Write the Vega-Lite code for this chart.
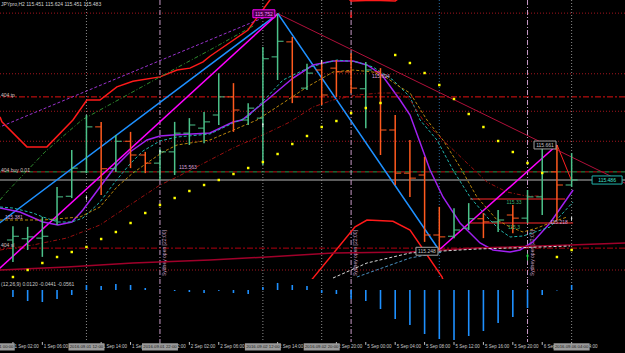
{
"$schema": "https://vega.github.io/schema/vega-lite/v6.json",
"background": "#000000",
"padding": 0,
"spacing": 0,
"bounds": "flush",
"config": {"view": {"stroke": null, "fill": "#000000"}, "text": {"font": "Liberation Sans"}, "concat": {"spacing": 0}},
"datasets": {
"bars": [
{"i":0,"o":115.392,"h":115.414,"l":115.357,"c":115.398},
{"i":1,"o":115.394,"h":115.413,"l":115.376,"c":115.397},
{"i":2,"o":115.395,"h":115.429,"l":115.365,"c":115.398},
{"i":3,"o":115.424,"h":115.477,"l":115.416,"c":115.461},
{"i":4,"o":115.462,"h":115.536,"l":115.459,"c":115.507},
{"i":5,"o":115.501,"h":115.592,"l":115.499,"c":115.573},
{"i":6,"o":115.573,"h":115.581,"l":115.464,"c":115.506},
{"i":7,"o":115.506,"h":115.560,"l":115.501,"c":115.550},
{"i":8,"o":115.550,"h":115.565,"l":115.507,"c":115.528},
{"i":9,"o":115.528,"h":115.533,"l":115.499,"c":115.515},
{"i":10,"o":115.515,"h":115.539,"l":115.488,"c":115.533},
{"i":11,"o":115.533,"h":115.581,"l":115.496,"c":115.563},
{"i":12,"o":115.563,"h":115.587,"l":115.544,"c":115.576},
{"i":13,"o":115.571,"h":115.597,"l":115.547,"c":115.581},
{"i":14,"o":115.592,"h":115.659,"l":115.576,"c":115.621},
{"i":15,"o":115.621,"h":115.643,"l":115.565,"c":115.600},
{"i":16,"o":115.584,"h":115.611,"l":115.576,"c":115.603},
{"i":17,"o":115.587,"h":115.701,"l":115.512,"c":115.682},
{"i":18,"o":115.685,"h":115.754,"l":115.648,"c":115.710},
{"i":19,"o":115.709,"h":115.717,"l":115.611,"c":115.621},
{"i":20,"o":115.635,"h":115.674,"l":115.632,"c":115.659},
{"i":21,"o":115.664,"h":115.677,"l":115.608,"c":115.624},
{"i":22,"o":115.667,"h":115.680,"l":115.621,"c":115.661},
{"i":23,"o":115.661,"h":115.691,"l":115.627,"c":115.635},
{"i":24,"o":115.634,"h":115.677,"l":115.571,"c":115.664},
{"i":25,"o":115.661,"h":115.667,"l":115.528,"c":115.568},
{"i":26,"o":115.568,"h":115.592,"l":115.480,"c":115.499},
{"i":27,"o":115.499,"h":115.552,"l":115.461,"c":115.491},
{"i":28,"o":115.496,"h":115.525,"l":115.389,"c":115.400},
{"i":29,"o":115.400,"h":115.445,"l":115.376,"c":115.397},
{"i":30,"o":115.398,"h":115.443,"l":115.395,"c":115.408},
{"i":31,"o":115.411,"h":115.451,"l":115.408,"c":115.426},
{"i":32,"o":115.426,"h":115.435,"l":115.395,"c":115.421},
{"i":33,"o":115.421,"h":115.440,"l":115.405,"c":115.424},
{"i":34,"o":115.432,"h":115.448,"l":115.403,"c":115.427},
{"i":35,"o":115.427,"h":115.472,"l":115.419,"c":115.461},
{"i":36,"o":115.461,"h":115.541,"l":115.432,"c":115.501},
{"i":37,"o":115.501,"h":115.544,"l":115.424,"c":115.480},
{"i":38,"o":115.480,"h":115.531,"l":115.477,"c":115.488}
],
"lines": [
{"s":"zzblue","i":-2,"p":115.400},{"s":"zzblue","i":18.03,"p":115.754},{"s":"zzblue","i":28.98,"p":115.376},
{"s":"zzmag1","i":-2,"p":115.323},{"s":"zzmag1","i":18.03,"p":115.754},
{"s":"zzmag2","i":28.98,"p":115.376},{"s":"zzmag2","i":37.01,"p":115.544},
{"s":"zzred","i":37.01,"p":115.544},{"s":"zzred","i":38.03,"p":115.485},
{"s":"trend","i":18.03,"p":115.754},{"s":"trend","i":41.63,"p":115.483},
{"s":"chan","i":-2,"p":115.562},{"s":"chan","i":17.48,"p":115.752},
{"s":"gdash","i":-0.88,"p":115.456},{"s":"gdash","i":-0.41,"p":115.469},{"s":"gdash","i":2.18,"p":115.533},{"s":"gdash","i":4.69,"p":115.584},{"s":"gdash","i":10,"p":115.653},{"s":"gdash","i":13.4,"p":115.696},{"s":"gdash","i":16.46,"p":115.736},
{"s":"ub","i":-0.88,"p":115.589},{"s":"ub","i":-0.75,"p":115.581},{"s":"ub","i":0.95,"p":115.541},{"s":"ub","i":2.31,"p":115.541},{"s":"ub","i":4.08,"p":115.584},{"s":"ub","i":5.03,"p":115.616},{"s":"ub","i":5.92,"p":115.616},{"s":"ub","i":7.07,"p":115.637},{"s":"ub","i":8.16,"p":115.646},{"s":"ub","i":10,"p":115.653},{"s":"ub","i":11.16,"p":115.664},{"s":"ub","i":12.04,"p":115.667},{"s":"ub","i":12.93,"p":115.677},{"s":"ub","i":13.4,"p":115.686},{"s":"ub","i":15.99,"p":115.728},{"s":"ub","i":17.48,"p":115.776},{"s":"ub","i":18.2,"p":115.8},
{"s":"ub2","i":22.4,"p":115.786},{"s":"ub2","i":23.0,"p":115.7745},{"s":"ub2","i":24.5,"p":115.7755},{"s":"ub2","i":26.0,"p":115.7745},{"s":"ub2","i":26.7,"p":115.786},
{"s":"lb","i":20.2,"p":115.325},{"s":"lb","i":20.41,"p":115.331},{"s":"lb","i":23.27,"p":115.413},{"s":"lb","i":24.08,"p":115.424},{"s":"lb","i":25.85,"p":115.422},{"s":"lb","i":27.01,"p":115.408},{"s":"lb","i":29.18,"p":115.333},{"s":"lb","i":29.3,"p":115.325},
{"s":"ma1","i":-0.88,"p":115.4432},{"s":"ma1","i":0.48,"p":115.4368},{"s":"ma1","i":2.04,"p":115.4208},{"s":"ma1","i":3.06,"p":115.416},{"s":"ma1","i":4.01,"p":115.4208},{"s":"ma1","i":4.76,"p":115.44},{"s":"ma1","i":5.92,"p":115.4768},{"s":"ma1","i":6.94,"p":115.5088},{"s":"ma1","i":7.96,"p":115.5328},{"s":"ma1","i":9.12,"p":115.552},{"s":"ma1","i":10,"p":115.5584},{"s":"ma1","i":10.88,"p":115.56},{"s":"ma1","i":13.4,"p":115.5632},{"s":"ma1","i":14.97,"p":115.5808},{"s":"ma1","i":15.58,"p":115.584},{"s":"ma1","i":17.28,"p":115.616},{"s":"ma1","i":19.05,"p":115.6512},{"s":"ma1","i":20.41,"p":115.672},{"s":"ma1","i":21.77,"p":115.6784},{"s":"ma1","i":23.13,"p":115.6784},{"s":"ma1","i":24.08,"p":115.672},{"s":"ma1","i":25.1,"p":115.656},{"s":"ma1","i":26.33,"p":115.616},{"s":"ma1","i":27.01,"p":115.592},{"s":"ma1","i":28.37,"p":115.504},{"s":"ma1","i":29.25,"p":115.4608},{"s":"ma1","i":30.41,"p":115.4192},{"s":"ma1","i":31.77,"p":115.3872},{"s":"ma1","i":32.65,"p":115.376},{"s":"ma1","i":33.81,"p":115.3728},{"s":"ma1","i":34.49,"p":115.376},{"s":"ma1","i":35.37,"p":115.3888},{"s":"ma1","i":36.53,"p":115.4192},{"s":"ma1","i":38.1,"p":115.472},
{"s":"ma2","i":-0.88,"p":115.4448},{"s":"ma2","i":0,"p":115.4432},{"s":"ma2","i":1.36,"p":115.4352},{"s":"ma2","i":2.04,"p":115.4288},{"s":"ma2","i":3.06,"p":115.4208},{"s":"ma2","i":4.01,"p":115.4208},{"s":"ma2","i":4.76,"p":115.4272},{"s":"ma2","i":5.92,"p":115.4528},{"s":"ma2","i":6.94,"p":115.4848},{"s":"ma2","i":7.96,"p":115.5136},{"s":"ma2","i":8.84,"p":115.5344},{"s":"ma2","i":10,"p":115.5504},{"s":"ma2","i":11.16,"p":115.5568},{"s":"ma2","i":13.4,"p":115.5616},{"s":"ma2","i":14.97,"p":115.5792},{"s":"ma2","i":15.99,"p":115.5888},{"s":"ma2","i":18.37,"p":115.648},{"s":"ma2","i":20.2,"p":115.6688},{"s":"ma2","i":22.04,"p":115.68},{"s":"ma2","i":23.4,"p":115.6768},{"s":"ma2","i":24.49,"p":115.6688},{"s":"ma2","i":25.85,"p":115.648},{"s":"ma2","i":27.01,"p":115.6208},{"s":"ma2","i":27.69,"p":115.584},{"s":"ma2","i":28.84,"p":115.552},{"s":"ma2","i":29.93,"p":115.504},{"s":"ma2","i":31.09,"p":115.4608},{"s":"ma2","i":32.24,"p":115.4288},{"s":"ma2","i":33.13,"p":115.408},{"s":"ma2","i":33.81,"p":115.3968},{"s":"ma2","i":34.69,"p":115.3984},{"s":"ma2","i":36.53,"p":115.4128},{"s":"ma2","i":38.1,"p":115.4528},
{"s":"ma3","i":-0.88,"p":115.424},{"s":"ma3","i":2.04,"p":115.424},{"s":"ma3","i":4.56,"p":115.4288},{"s":"ma3","i":5.92,"p":115.4448},{"s":"ma3","i":7.07,"p":115.4768},{"s":"ma3","i":8.16,"p":115.4992},{"s":"ma3","i":9.12,"p":115.5152},{"s":"ma3","i":10.2,"p":115.5328},{"s":"ma3","i":11.16,"p":115.544},{"s":"ma3","i":13.4,"p":115.552},{"s":"ma3","i":16.6,"p":115.584},{"s":"ma3","i":18.37,"p":115.6112},{"s":"ma3","i":20,"p":115.6368},{"s":"ma3","i":21.77,"p":115.6608},{"s":"ma3","i":23.13,"p":115.664},{"s":"ma3","i":24.49,"p":115.6608},{"s":"ma3","i":25.44,"p":115.6512},{"s":"ma3","i":26.33,"p":115.6368},{"s":"ma3","i":27.01,"p":115.6272},{"s":"ma3","i":28.16,"p":115.584},{"s":"ma3","i":29.25,"p":115.552},{"s":"ma3","i":30.41,"p":115.5088},{"s":"ma3","i":31.56,"p":115.4608},{"s":"ma3","i":32.93,"p":115.424},{"s":"ma3","i":33.81,"p":115.4128},{"s":"ma3","i":34.69,"p":115.4048},{"s":"ma3","i":35.65,"p":115.4112},{"s":"ma3","i":36.53,"p":115.4192},{"s":"ma3","i":37.69,"p":115.4288},
{"s":"ma4","i":-0.88,"p":115.376},{"s":"ma4","i":1.36,"p":115.384},{"s":"ma4","i":3.67,"p":115.3952},{"s":"ma4","i":5.92,"p":115.416},{"s":"ma4","i":8.16,"p":115.4512},{"s":"ma4","i":10,"p":115.48},{"s":"ma4","i":11.16,"p":115.4928},{"s":"ma4","i":13.4,"p":115.52},{"s":"ma4","i":14.97,"p":115.5392},{"s":"ma4","i":17.28,"p":115.5632},{"s":"ma4","i":18.84,"p":115.5808},{"s":"ma4","i":20.41,"p":115.6048},{"s":"ma4","i":21.77,"p":115.616},{"s":"ma4","i":23.4,"p":115.624},{"s":"ma4","i":24.97,"p":115.6272},{"s":"ma4","i":26.33,"p":115.6272},{"s":"ma4","i":27.01,"p":115.616},{"s":"ma4","i":27.89,"p":115.584},{"s":"ma4","i":29.25,"p":115.552},{"s":"ma4","i":30.88,"p":115.5152},{"s":"ma4","i":32.24,"p":115.4848},{"s":"ma4","i":33.6,"p":115.4688},{"s":"ma4","i":34.9,"p":115.4624},{"s":"ma4","i":36.05,"p":115.4624},
{"s":"ma5","i":-0.88,"p":115.344},{"s":"ma5","i":3.67,"p":115.3488},{"s":"ma5","i":8.16,"p":115.3552},{"s":"ma5","i":13.4,"p":115.36},{"s":"ma5","i":17.28,"p":115.3648},{"s":"ma5","i":21.77,"p":115.3712},{"s":"ma5","i":27.01,"p":115.3728},{"s":"ma5","i":31.56,"p":115.3792},{"s":"ma5","i":37.89,"p":115.384},{"s":"ma5","i":41.63,"p":115.3872},
{"s":"ma6","i":21.77,"p":115.3312},{"s":"ma6","i":24.08,"p":115.3552},{"s":"ma6","i":27.01,"p":115.3712},{"s":"ma6","i":29.25,"p":115.3744},{"s":"ma6","i":31.56,"p":115.3776},{"s":"ma6","i":33.81,"p":115.3792},{"s":"ma6","i":37.89,"p":115.3824},
{"s":"ma7","i":23.4,"p":115.3328},{"s":"ma7","i":27.01,"p":115.3632},{"s":"ma7","i":29.25,"p":115.3728},
{"s":"bx1","i":31.09,"p":115.4576},{"s":"bx1","i":37.55,"p":115.4576},
{"s":"bx2","i":31.09,"p":115.4192},{"s":"bx2","i":38.1,"p":115.4192}
],
"hlines": [
{"k":"dot","p":115.755},{"k":"dot","p":115.658},{"k":"tp","p":115.621},{"k":"dot","p":115.598},{"k":"dot","p":115.550},{"k":"buy","p":115.501},{"k":"bid","p":115.488},{"k":"sl","p":115.379},{"k":"dot","p":115.344}
],
"vlines": [
{"k":"grey","i":5},{"k":"lilac","i":10},{"k":"grey","i":17},{"k":"grey","i":21},{"k":"lilac","i":23},{"k":"blue","i":29},{"k":"lilac","i":35},{"k":"grey","i":38}
],
"labels": [
{"k":"mag","t":"115.752","i":17.07,"p":115.754},
{"k":"grey","t":"115.661","i":36.19,"p":115.544},
{"k":"grey","t":"115.248","i":28.16,"p":115.374},
{"k":"cur","t":"115.486","i":40.41,"p":115.488},
{"k":"plum","t":"115.694","i":25.03,"p":115.654},
{"k":"plum","t":"115.563","i":11.9,"p":115.509},
{"k":"plum","t":"115.381","i":0.07,"p":115.429},
{"k":"plum","t":"115.218","i":37.14,"p":115.421},
{"k":"green","t":"115.33","i":34.08,"p":115.453},
{"k":"green","t":"115.3","i":34.08,"p":115.413},
{"k":"lt","t":"404 tp","i":-0.88,"p":115.624},
{"k":"lt","t":"404 buy 0.01","i":-0.88,"p":115.504},
{"k":"lt","t":"404 sl","i":-0.88,"p":115.384},
{"k":"title","t":"JPYpro,H2  115.451 115.624 115.451 115.483","i":-0.88,"p":115.7696}
],
"marks": [
{"k":"w","i":5,"p":115.459},{"k":"w","i":10,"p":115.533},{"k":"w","i":17,"p":115.576},{"k":"w","i":21,"p":115.677},{"k":"w","i":38,"p":115.426},{"k":"r","i":23,"p":115.752},{"k":"g","i":35,"p":115.365}
],
"psar": [
{"i":0,"p":115.3328},{"i":1,"p":115.344},{"i":2,"p":115.3552},{"i":3,"p":115.3648},{"i":4,"p":115.3728},{"i":5,"p":115.3808},{"i":6,"p":115.3936},{"i":7,"p":115.4048},{"i":8,"p":115.4192},{"i":9,"p":115.4352},{"i":10,"p":115.448},{"i":11,"p":115.4592},{"i":12,"p":115.4704},{"i":13,"p":115.48},{"i":14,"p":115.488},{"i":15,"p":115.4976},{"i":16,"p":115.5072},{"i":17,"p":115.5168},{"i":18,"p":115.5296},{"i":19,"p":115.5456},{"i":20,"p":115.5584},{"i":21,"p":115.5728},{"i":22,"p":115.5824},{"i":23,"p":115.5952},{"i":24,"p":115.6032},{"i":25,"p":115.6112},{"i":26,"p":115.688},{"i":27,"p":115.6752},{"i":28,"p":115.6592},{"i":29,"p":115.64},{"i":30,"p":115.6176},{"i":31,"p":115.5936},{"i":32,"p":115.5728},{"i":33,"p":115.5504},{"i":34,"p":115.5328},{"i":35,"p":115.5152},{"i":36,"p":115.4992},{"i":37,"p":115.3648},{"i":38,"p":115.376}
],
"hist": [
{"i":0,"v":-0.0084},{"i":1,"v":-0.0132},{"i":2,"v":-0.0144},{"i":3,"v":-0.0108},{"i":4,"v":-0.006},{"i":5,"v":0.006},{"i":6,"v":0.0048},{"i":7,"v":0.0072},{"i":8,"v":0.006},{"i":9,"v":0.0024},{"i":10,"v":0.0004},{"i":11,"v":-0.0012},{"i":12,"v":-0.0024},{"i":13,"v":-0.0036},{"i":14,"v":-0.001},{"i":15,"v":-0.0036},{"i":16,"v":-0.0048},{"i":17,"v":0.0036},{"i":18,"v":0.0084},{"i":19,"v":0.006},{"i":20,"v":0.0048},{"i":21,"v":-0.0036},{"i":22,"v":-0.0048},{"i":23,"v":-0.0108},{"i":24,"v":-0.0132},{"i":25,"v":-0.0228},{"i":26,"v":-0.0348},{"i":27,"v":-0.042},{"i":28,"v":-0.0528},{"i":29,"v":-0.0588},{"i":30,"v":-0.06},{"i":31,"v":-0.0552},{"i":32,"v":-0.0492},{"i":33,"v":-0.0396},{"i":34,"v":-0.0324},{"i":35,"v":-0.0216},{"i":36,"v":-0.006},{"i":37,"v":-0.0005},{"i":38,"v":0.006}
],
"subtext": [{"t":"(12,26,9) 0.0120 -0.0441 -0.0561","i":-0.88,"v":0.0072}],
"ticks": [
{"i":0,"t":"1 Sep 02:00"},{"i":2,"t":"1 Sep 06:00"},{"i":6,"t":"1 Sep 14:00"},{"i":8,"t":"1 Sep 18:00"},{"i":10,"t":"1 Sep 22:00"},{"i":12,"t":"2 Sep 02:00"},{"i":14,"t":"2 Sep 06:00"},{"i":18,"t":"2 Sep 14:00"},{"i":22,"t":"2 Sep 20:00"},{"i":24,"t":"5 Sep 00:00"},{"i":26,"t":"5 Sep 04:00"},{"i":28,"t":"5 Sep 08:00"},{"i":30,"t":"5 Sep 12:00"},{"i":32,"t":"5 Sep 16:00"},{"i":34,"t":"5 Sep 20:00"},{"i":36,"t":"6 Sep 00:00"},{"i":38,"t":"6 Sep 04:00"}
],
"vboxes": [
{"i":-1.1,"t":"2016.09.01 00:00"},{"i":5,"t":"2016.09.01 12:00"},{"i":10,"t":"2016.09.01 22:00"},{"i":17,"t":"2016.09.02 12:00"},{"i":21,"t":"2016.09.02 20:00"},{"i":38,"t":"2016.09.06 04:00"}
]
},
"vconcat": [
{
"width": 625, "height": 279,
"layer": [
{"data":{"name":"hlines"},"transform":[{"filter":"datum.k==='dot'"}],"mark":{"type":"rule","color":"#a3141e","strokeDash":[1,2],"strokeWidth":1,"clip":true},"encoding":{"y":{"field":"p","type":"quantitative","scale":{"domain":[115.3296,115.776],"nice":false,"zero":false},"axis":null}}},
{"data":{"name":"hlines"},"transform":[{"filter":"datum.k==='tp'"}],"mark":{"type":"rule","color":"#e01010","strokeDash":[6,2,2,2],"strokeWidth":1,"clip":true},"encoding":{"y":{"field":"p","type":"quantitative","scale":{"domain":[115.3296,115.776],"nice":false,"zero":false},"axis":null}}},
{"data":{"name":"hlines"},"transform":[{"filter":"datum.k==='buy'"}],"mark":{"type":"rule","color":"#2e9b4e","strokeDash":[4,4],"strokeWidth":1,"clip":true},"encoding":{"y":{"field":"p","type":"quantitative","scale":{"domain":[115.3296,115.776],"nice":false,"zero":false},"axis":null}}},
{"data":{"name":"hlines"},"transform":[{"filter":"datum.k==='buy'"}],"mark":{"type":"rule","color":"#c01818","strokeDash":[4,4],"strokeDashOffset":4,"strokeWidth":1,"clip":true},"encoding":{"y":{"field":"p","type":"quantitative","scale":{"domain":[115.3296,115.776],"nice":false,"zero":false},"axis":null}}},
{"data":{"name":"hlines"},"transform":[{"filter":"datum.k==='bid'"}],"mark":{"type":"rule","color":"#b8b8b8","strokeWidth":1,"clip":true},"encoding":{"y":{"field":"p","type":"quantitative","scale":{"domain":[115.3296,115.776],"nice":false,"zero":false},"axis":null}}},
{"data":{"name":"hlines"},"transform":[{"filter":"datum.k==='sl'"}],"mark":{"type":"rule","color":"#b00010","strokeDash":[6,2,2,2],"strokeWidth":1,"clip":true},"encoding":{"y":{"field":"p","type":"quantitative","scale":{"domain":[115.3296,115.776],"nice":false,"zero":false},"axis":null}}},
{"data":{"name":"vlines"},"transform":[{"filter":"datum.k==='grey'"}],"mark":{"type":"rule","color":"#8a8a8a","strokeDash":[1,2],"strokeWidth":1,"clip":true},"encoding":{"x":{"field":"i","type":"quantitative","scale":{"domain":[-0.88,41.63],"nice":false,"zero":false},"axis":null}}},
{"data":{"name":"vlines"},"transform":[{"filter":"datum.k==='lilac'"}],"mark":{"type":"rule","color":"#c89ac8","strokeDash":[5,2,1,2],"strokeWidth":1,"clip":true},"encoding":{"x":{"field":"i","type":"quantitative","scale":{"domain":[-0.88,41.63],"nice":false,"zero":false},"axis":null}}},
{"data":{"name":"vlines"},"transform":[{"filter":"datum.k==='blue'"}],"mark":{"type":"rule","color":"#2a6aa0","strokeDash":[1,2],"strokeWidth":1,"clip":true},"encoding":{"x":{"field":"i","type":"quantitative","scale":{"domain":[-0.88,41.63],"nice":false,"zero":false},"axis":null}}},
{"data":{"name":"vlines"},"transform":[{"filter":"datum.k==='lilac'"}],"mark":{"type":"text","text":"Sydney open [22:00]","angle":270,"align":"left","baseline":"middle","xOffset":4,"fontSize":5,"color":"#c8a0c8","clip":true},"encoding":{"x":{"field":"i","type":"quantitative","scale":{"domain":[-0.88,41.63],"nice":false,"zero":false},"axis":null},"y":{"datum":115.3344,"type":"quantitative","scale":{"domain":[115.3296,115.776],"nice":false,"zero":false},"axis":null}}},
{"data":{"name":"lines"},"transform":[{"filter":{"field":"s","oneOf":["trend","bx1","bx2","zzred"]}}],"mark":{"type":"line","strokeWidth":1,"clip":true},"encoding":{"x":{"field":"i","type":"quantitative","scale":{"domain":[-0.88,41.63],"nice":false,"zero":false},"axis":null},"y":{"field":"p","type":"quantitative","scale":{"domain":[115.3296,115.776],"nice":false,"zero":false},"axis":null},"color":{"field":"s","type":"nominal","legend":null,"scale":{"domain":["zzblue","zzmag1","zzmag2","zzred","trend","chan","gdash","ub","ub2","lb","ma1","ma2","ma3","ma4","ma5","ma6","ma7","bx1","bx2"],"range":["#1e90ff","#ff00ff","#ff00ff","#ff2020","#b0103a","#9932cc","#2e8b2e","#ff1a1a","#ff1a1a","#ff1a1a","#a020f0","#20b2aa","#b8860b","#9b1010","#a0002a","#d8d8d8","#4a90c0","#ff2a2a","#ff2a2a"]}}}},
{"data":{"name":"lines"},"transform":[{"filter":{"field":"s","oneOf":["zzblue","zzmag1","zzmag2","ub","ub2","lb","ma1","ma5"]}}],"mark":{"type":"line","strokeWidth":1.5,"clip":true},"encoding":{"x":{"field":"i","type":"quantitative","scale":{"domain":[-0.88,41.63],"nice":false,"zero":false},"axis":null},"y":{"field":"p","type":"quantitative","scale":{"domain":[115.3296,115.776],"nice":false,"zero":false},"axis":null},"color":{"field":"s","type":"nominal","legend":null,"scale":{"domain":["zzblue","zzmag1","zzmag2","zzred","trend","chan","gdash","ub","ub2","lb","ma1","ma2","ma3","ma4","ma5","ma6","ma7","bx1","bx2"],"range":["#1e90ff","#ff00ff","#ff00ff","#ff2020","#b0103a","#9932cc","#2e8b2e","#ff1a1a","#ff1a1a","#ff1a1a","#a020f0","#20b2aa","#b8860b","#9b1010","#a0002a","#d8d8d8","#4a90c0","#ff2a2a","#ff2a2a"]}}}},
{"data":{"name":"lines"},"transform":[{"filter":{"field":"s","oneOf":["chan","ma2","ma3","ma6","ma7"]}}],"mark":{"type":"line","strokeWidth":1,"strokeDash":[3,2],"clip":true},"encoding":{"x":{"field":"i","type":"quantitative","scale":{"domain":[-0.88,41.63],"nice":false,"zero":false},"axis":null},"y":{"field":"p","type":"quantitative","scale":{"domain":[115.3296,115.776],"nice":false,"zero":false},"axis":null},"color":{"field":"s","type":"nominal","legend":null,"scale":{"domain":["zzblue","zzmag1","zzmag2","zzred","trend","chan","gdash","ub","ub2","lb","ma1","ma2","ma3","ma4","ma5","ma6","ma7","bx1","bx2"],"range":["#1e90ff","#ff00ff","#ff00ff","#ff2020","#b0103a","#9932cc","#2e8b2e","#ff1a1a","#ff1a1a","#ff1a1a","#a020f0","#20b2aa","#b8860b","#9b1010","#a0002a","#d8d8d8","#4a90c0","#ff2a2a","#ff2a2a"]}}}},
{"data":{"name":"lines"},"transform":[{"filter":{"field":"s","oneOf":["gdash","ma4"]}}],"mark":{"type":"line","strokeWidth":1,"strokeDash":[4,2,1,2],"clip":true},"encoding":{"x":{"field":"i","type":"quantitative","scale":{"domain":[-0.88,41.63],"nice":false,"zero":false},"axis":null},"y":{"field":"p","type":"quantitative","scale":{"domain":[115.3296,115.776],"nice":false,"zero":false},"axis":null},"color":{"field":"s","type":"nominal","legend":null,"scale":{"domain":["zzblue","zzmag1","zzmag2","zzred","trend","chan","gdash","ub","ub2","lb","ma1","ma2","ma3","ma4","ma5","ma6","ma7","bx1","bx2"],"range":["#1e90ff","#ff00ff","#ff00ff","#ff2020","#b0103a","#9932cc","#2e8b2e","#ff1a1a","#ff1a1a","#ff1a1a","#a020f0","#20b2aa","#b8860b","#9b1010","#a0002a","#d8d8d8","#4a90c0","#ff2a2a","#ff2a2a"]}}}},
{"data":{"name":"bars"},"mark":{"type":"rule","strokeWidth":1.5,"clip":true},"encoding":{"x":{"field":"i","type":"quantitative","scale":{"domain":[-0.88,41.63],"nice":false,"zero":false},"axis":null},"y":{"field":"l","type":"quantitative","scale":{"domain":[115.3296,115.776],"nice":false,"zero":false},"axis":null},"y2":{"field":"h"},"color":{"condition":{"test":"datum.c < datum.o","value":"#ff5a1e"},"value":"#4cc28a"}}},
{"data":{"name":"bars"},"mark":{"type":"point","shape":"M-1,0L0,0","size":144,"filled":false,"strokeWidth":1,"opacity":1,"clip":true},"encoding":{"x":{"field":"i","type":"quantitative","scale":{"domain":[-0.88,41.63],"nice":false,"zero":false},"axis":null},"y":{"field":"o","type":"quantitative","scale":{"domain":[115.3296,115.776],"nice":false,"zero":false},"axis":null},"color":{"condition":{"test":"datum.c < datum.o","value":"#ff5a1e"},"value":"#4cc28a"}}},
{"data":{"name":"bars"},"mark":{"type":"point","shape":"M0,0L1,0","size":144,"filled":false,"strokeWidth":1,"opacity":1,"clip":true},"encoding":{"x":{"field":"i","type":"quantitative","scale":{"domain":[-0.88,41.63],"nice":false,"zero":false},"axis":null},"y":{"field":"c","type":"quantitative","scale":{"domain":[115.3296,115.776],"nice":false,"zero":false},"axis":null},"color":{"condition":{"test":"datum.c < datum.o","value":"#ff5a1e"},"value":"#4cc28a"}}},
{"data":{"name":"psar"},"mark":{"type":"square","size":6,"color":"#ffff00","opacity":1,"clip":true},"encoding":{"x":{"field":"i","type":"quantitative","scale":{"domain":[-0.88,41.63],"nice":false,"zero":false},"axis":null},"y":{"field":"p","type":"quantitative","scale":{"domain":[115.3296,115.776],"nice":false,"zero":false},"axis":null}}},
{"data":{"name":"marks"},"transform":[{"filter":"datum.k==='w'"}],"mark":{"type":"point","shape":"arrow","filled":true,"size":22,"color":"#ffffff","opacity":1,"clip":true},"encoding":{"x":{"field":"i","type":"quantitative","scale":{"domain":[-0.88,41.63],"nice":false,"zero":false},"axis":null},"y":{"field":"p","type":"quantitative","scale":{"domain":[115.3296,115.776],"nice":false,"zero":false},"axis":null}}},
{"data":{"name":"marks"},"transform":[{"filter":"datum.k==='r'"}],"mark":{"type":"point","shape":"arrow","angle":180,"filled":true,"size":45,"color":"#ff2020","opacity":1,"clip":true},"encoding":{"x":{"field":"i","type":"quantitative","scale":{"domain":[-0.88,41.63],"nice":false,"zero":false},"axis":null},"y":{"field":"p","type":"quantitative","scale":{"domain":[115.3296,115.776],"nice":false,"zero":false},"axis":null}}},
{"data":{"name":"marks"},"transform":[{"filter":"datum.k==='g'"}],"mark":{"type":"point","shape":"arrow","filled":true,"size":55,"color":"#22cc44","opacity":1,"clip":true},"encoding":{"x":{"field":"i","type":"quantitative","scale":{"domain":[-0.88,41.63],"nice":false,"zero":false},"axis":null},"y":{"field":"p","type":"quantitative","scale":{"domain":[115.3296,115.776],"nice":false,"zero":false},"axis":null}}},
{"data":{"name":"labels"},"transform":[{"filter":"datum.k==='mag'"}],"mark":{"type":"point","shape":"M-1,-0.36L1,-0.36L1,0.36L-1,0.36Z","size":484,"filled":true,"fill":"#4a004a","stroke":"#ff00ff","strokeWidth":1,"opacity":1,"clip":true},"encoding":{"x":{"field":"i","type":"quantitative","scale":{"domain":[-0.88,41.63],"nice":false,"zero":false},"axis":null},"y":{"field":"p","type":"quantitative","scale":{"domain":[115.3296,115.776],"nice":false,"zero":false},"axis":null}}},
{"data":{"name":"labels"},"transform":[{"filter":"datum.k==='grey'"}],"mark":{"type":"point","shape":"M-1,-0.36L1,-0.36L1,0.36L-1,0.36Z","size":484,"filled":true,"fill":"#000000","stroke":"#a0a0a0","strokeWidth":1,"opacity":1,"clip":true},"encoding":{"x":{"field":"i","type":"quantitative","scale":{"domain":[-0.88,41.63],"nice":false,"zero":false},"axis":null},"y":{"field":"p","type":"quantitative","scale":{"domain":[115.3296,115.776],"nice":false,"zero":false},"axis":null}}},
{"data":{"name":"labels"},"transform":[{"filter":"datum.k==='cur'"}],"mark":{"type":"point","shape":"M-1,-0.27L1,-0.27L1,0.27L-1,0.27Z","size":900,"filled":true,"fill":"#000000","stroke":"#20b2aa","strokeWidth":1,"opacity":1,"clip":true},"encoding":{"x":{"field":"i","type":"quantitative","scale":{"domain":[-0.88,41.63],"nice":false,"zero":false},"axis":null},"y":{"field":"p","type":"quantitative","scale":{"domain":[115.3296,115.776],"nice":false,"zero":false},"axis":null}}},
{"data":{"name":"labels"},"transform":[{"filter":{"field":"k","oneOf":["mag","grey","cur","plum","green"]}}],"mark":{"type":"text","fontSize":5,"align":"center","baseline":"middle","clip":true},"encoding":{"x":{"field":"i","type":"quantitative","scale":{"domain":[-0.88,41.63],"nice":false,"zero":false},"axis":null},"y":{"field":"p","type":"quantitative","scale":{"domain":[115.3296,115.776],"nice":false,"zero":false},"axis":null},"text":{"field":"t"},"color":{"condition":[{"test":"datum.k==='mag'","value":"#ff80ff"},{"test":"datum.k==='grey'","value":"#c0c0c0"},{"test":"datum.k==='cur'","value":"#40e0d0"},{"test":"datum.k==='green'","value":"#3cb371"}],"value":"#d8a0d8"}}},
{"data":{"name":"labels"},"transform":[{"filter":{"field":"k","oneOf":["lt","title"]}}],"mark":{"type":"text","fontSize":5,"align":"left","baseline":"middle","xOffset":1,"clip":true},"encoding":{"x":{"field":"i","type":"quantitative","scale":{"domain":[-0.88,41.63],"nice":false,"zero":false},"axis":null},"y":{"field":"p","type":"quantitative","scale":{"domain":[115.3296,115.776],"nice":false,"zero":false},"axis":null},"text":{"field":"t"},"color":{"condition":{"test":"datum.k==='title'","value":"#d0d0d0"},"value":"#d8c0c0"}}},
{"mark":{"type":"rule","color":"#9a9a9a","strokeWidth":2,"clip":true},"encoding":{"y":{"datum":115.3307,"type":"quantitative","scale":{"domain":[115.3296,115.776],"nice":false,"zero":false},"axis":null}}}
]
},
{
"width": 625, "height": 63,
"layer": [
{"data":{"name":"vlines"},"transform":[{"filter":"datum.k==='grey'"}],"mark":{"type":"rule","color":"#8a8a8a","strokeDash":[1,2],"strokeWidth":1,"clip":true},"encoding":{"x":{"field":"i","type":"quantitative","scale":{"domain":[-0.88,41.63],"nice":false,"zero":false},"axis":null}}},
{"data":{"name":"vlines"},"transform":[{"filter":"datum.k==='lilac'"}],"mark":{"type":"rule","color":"#c89ac8","strokeDash":[5,2,1,2],"strokeWidth":1,"clip":true},"encoding":{"x":{"field":"i","type":"quantitative","scale":{"domain":[-0.88,41.63],"nice":false,"zero":false},"axis":null}}},
{"mark":{"type":"rule","color":"#8b1a1a","strokeDash":[4,2,1,2],"strokeWidth":1,"clip":true},"encoding":{"y":{"datum":0,"type":"quantitative","scale":{"domain":[-0.0624,0.0132],"nice":false,"zero":false},"axis":null}}},
{"data":{"name":"hist"},"mark":{"type":"rule","strokeWidth":1.6,"color":"#1e90ff","clip":true},"encoding":{"x":{"field":"i","type":"quantitative","scale":{"domain":[-0.88,41.63],"nice":false,"zero":false},"axis":null},"y":{"field":"v","type":"quantitative","scale":{"domain":[-0.0624,0.0132],"nice":false,"zero":false},"axis":null},"y2":{"datum":0}}},
{"data":{"name":"subtext"},"mark":{"type":"text","fontSize":5,"align":"left","baseline":"middle","xOffset":1,"color":"#c8c8c8","clip":true},"encoding":{"x":{"field":"i","type":"quantitative","scale":{"domain":[-0.88,41.63],"nice":false,"zero":false},"axis":null},"y":{"field":"v","type":"quantitative","scale":{"domain":[-0.0624,0.0132],"nice":false,"zero":false},"axis":null},"text":{"field":"t"}}},
{"mark":{"type":"rule","color":"#9a9a9a","strokeWidth":1.5,"clip":true},"encoding":{"y":{"datum":-0.0616,"type":"quantitative","scale":{"domain":[-0.0624,0.0132],"nice":false,"zero":false},"axis":null}}}
]
},
{
"width": 625, "height": 11,
"layer": [
{"data":{"name":"ticks"},"mark":{"type":"rule","color":"#c0c0c0","strokeWidth":1,"clip":true},"encoding":{"x":{"field":"i","type":"quantitative","scale":{"domain":[-0.88,41.63],"nice":false,"zero":false},"axis":null},"y":{"datum":1,"type":"quantitative","scale":{"domain":[0,1],"nice":false,"zero":false},"axis":null},"y2":{"datum":0.74}}},
{"data":{"name":"ticks"},"mark":{"type":"text","fontSize":4.5,"align":"left","baseline":"middle","xOffset":1.5,"color":"#c8c8c8","clip":true},"encoding":{"x":{"field":"i","type":"quantitative","scale":{"domain":[-0.88,41.63],"nice":false,"zero":false},"axis":null},"y":{"datum":0.55,"type":"quantitative","scale":{"domain":[0,1],"nice":false,"zero":false},"axis":null},"text":{"field":"t"}}},
{"data":{"name":"vboxes"},"mark":{"type":"point","shape":"M-1,-0.2L1,-0.2L1,0.2L-1,0.2Z","size":1296,"filled":true,"color":"#9a9a9a","opacity":1,"clip":true},"encoding":{"x":{"field":"i","type":"quantitative","scale":{"domain":[-0.88,41.63],"nice":false,"zero":false},"axis":null},"y":{"datum":0.55,"type":"quantitative","scale":{"domain":[0,1],"nice":false,"zero":false},"axis":null}}},
{"data":{"name":"vboxes"},"mark":{"type":"text","fontSize":4.3,"align":"center","baseline":"middle","color":"#1a1a1a","clip":true},"encoding":{"x":{"field":"i","type":"quantitative","scale":{"domain":[-0.88,41.63],"nice":false,"zero":false},"axis":null},"y":{"datum":0.55,"type":"quantitative","scale":{"domain":[0,1],"nice":false,"zero":false},"axis":null},"text":{"field":"t"}}},
{"mark":{"type":"rule","color":"#9a9a9a","strokeWidth":1,"clip":true},"encoding":{"y":{"datum":0.13,"type":"quantitative","scale":{"domain":[0,1],"nice":false,"zero":false},"axis":null}}}
]
}
]
}
